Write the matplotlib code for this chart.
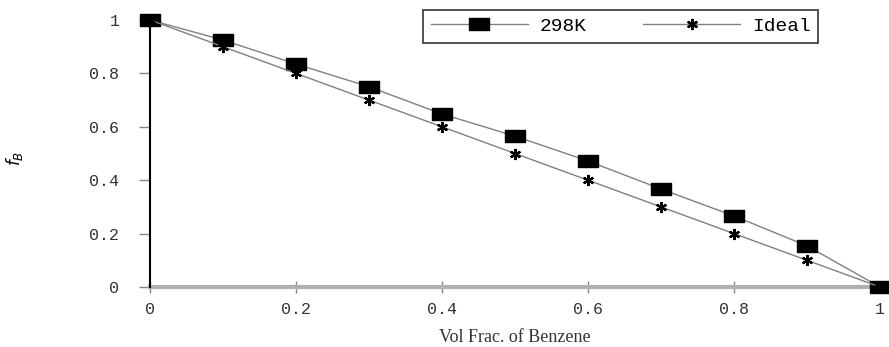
import numpy as np
import matplotlib
matplotlib.use("Agg")
import matplotlib.pyplot as plt
from matplotlib.path import Path

# ── DATA ──────────────────────────────────────────────────────────────────────
vol_frac = [0.0, 0.1, 0.2, 0.3, 0.4, 0.5, 0.6, 0.7, 0.8, 0.9, 1.0]
f_298k = [1.0, 0.925, 0.835, 0.75, 0.648, 0.565, 0.472, 0.367, 0.266, 0.154, 0.0]
f_ideal = [1.0, 0.9, 0.8, 0.7, 0.6, 0.5, 0.4, 0.3, 0.2, 0.1, 0.0]

x_ticks = [0, 0.2, 0.4, 0.6, 0.8, 1]
x_labels = ["0", "0.2", "0.4", "0.6", "0.8", "1"]
y_ticks = [0, 0.2, 0.4, 0.6, 0.8, 1]
y_labels = ["0", "0.2", "0.4", "0.6", "0.8", "1"]

# ── PLOT ──────────────────────────────────────────────────────────────────────
plt.rcParams['font.family'] = ['Liberation Mono', 'DejaVu Sans']

# wide rectangle marker like the original
rect = Path([(-1.0, -0.6), (1.0, -0.6), (1.0, 0.6), (-1.0, 0.6), (-1.0, -0.6)],
            [Path.MOVETO, Path.LINETO, Path.LINETO, Path.LINETO, Path.CLOSEPOLY])

fig = plt.figure(figsize=(8.89, 3.47), dpi=100)
ax = fig.add_axes([150 / 889, 1 - 287 / 347, 730 / 889, 267 / 347])

ax.plot(vol_frac, f_298k, color='#808080', linewidth=1.0, marker=rect,
        markersize=15, markerfacecolor='black', markeredgecolor='black',
        label='298K', zorder=3, clip_on=False)
ax.plot(vol_frac, f_ideal, color='#808080', linewidth=1.0, marker=(6, 2, 0),
        markersize=8, markeredgecolor='black', markeredgewidth=1.6,
        label='Ideal', zorder=3, clip_on=False)

ax.set_xlim(0, 1)
ax.set_ylim(0, 1)
ax.set_xticks(x_ticks)
ax.set_xticklabels(x_labels, fontsize=12, color='#333333')
ax.set_yticks(y_ticks)
ax.set_yticklabels(y_labels, fontsize=12, color='#333333')
ax.tick_params(axis='y', length=8, width=1, color='#888888', pad=14)
ax.tick_params(axis='x', length=8, width=1, color='#888888', pad=7, direction='inout')

for s in ['top', 'right']:
    ax.spines[s].set_visible(False)
ax.spines['left'].set_color('black')
ax.spines['left'].set_linewidth(1.5)
ax.spines['bottom'].set_color('#b0b0b0')
ax.spines['bottom'].set_linewidth(3)
ax.spines['left'].set_zorder(4)

ax.set_xlabel("Vol Frac. of Benzene", fontsize=13, color='#333333',
              family=['Liberation Serif', 'DejaVu Serif'])
ax.xaxis.set_label_coords(0.5, -42 / 267)
ax.set_ylabel(r"$f_B$", fontsize=12, rotation=90)
ax.yaxis.set_label_coords(-125 / 730, 0.48)

leg = fig.legend(loc='lower left', bbox_to_anchor=(423 / 889, 1 - 43 / 347), ncol=2,
                 frameon=True, fancybox=False, fontsize=14, handlelength=5,
                 handletextpad=0.6, columnspacing=2.9, borderpad=0.4,
                 borderaxespad=0)
leg.get_frame().set_edgecolor('black')
leg.get_frame().set_linewidth(1.2)
for line in leg.get_lines():
    line.set_color('#808080')

plt.savefig("out.png", dpi=100)
